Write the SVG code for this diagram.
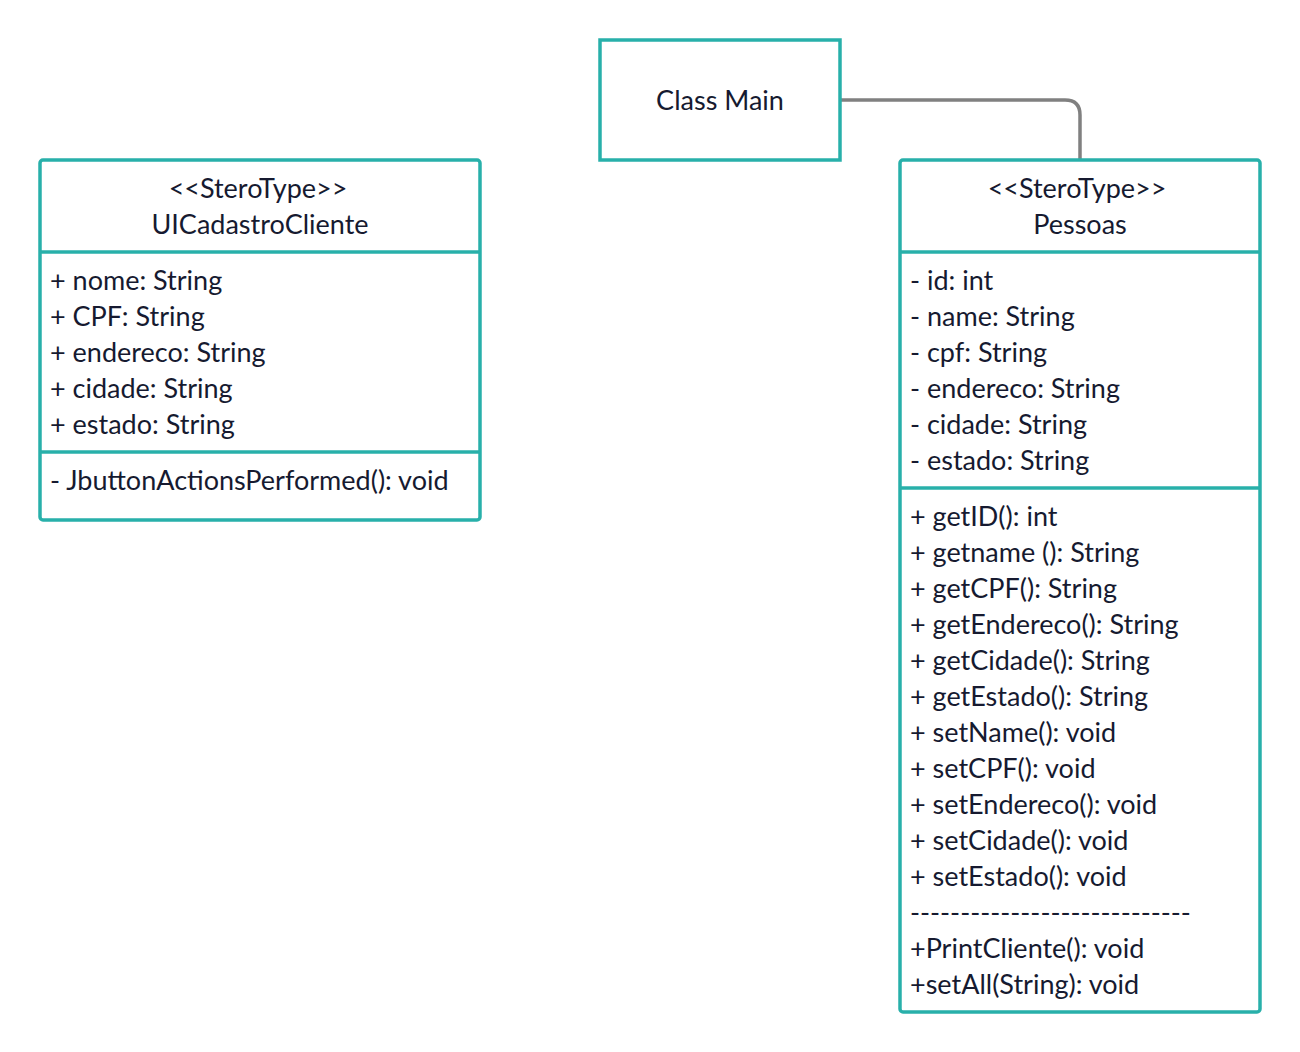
<svg xmlns="http://www.w3.org/2000/svg" width="1300" height="1052" viewBox="0 0 1300 1052">
<style>
.box{fill:#ffffff;stroke:#28b0aa;stroke-width:3.5}
.div{stroke:#28b0aa;stroke-width:3.5}
text{font-family:Lato,"Open Sans","Liberation Sans",sans-serif;fill:#161a30;font-size:27px}
.c{text-anchor:middle}
.conn{fill:none;stroke:#808080;stroke-width:3.5}
</style>
<rect width="1300" height="1052" fill="#ffffff"/>
<g id="connectors">
<path class="conn" d="M840 100 H1065 Q1080 100 1080 115 V160"/>
</g>
<g id="main">
<rect class="box" x="600" y="40" width="240" height="120"/>
<text class="c" x="720" y="110">Class Main</text>
</g>
<g id="uicadastro">
<rect class="box" x="40" y="160" width="440" height="360" rx="3"/>
<line class="div" x1="40" y1="252" x2="480" y2="252"/>
<line class="div" x1="40" y1="452" x2="480" y2="452"/>
<text class="c" x="258" y="198">&lt;&lt;SteroType&gt;&gt;</text>
<text class="c" x="260" y="234">UICadastroCliente</text>
<text x="50" y="290">+ nome: String</text>
<text x="50" y="326">+ CPF: String</text>
<text x="50" y="362">+ endereco: String</text>
<text x="50" y="398">+ cidade: String</text>
<text x="50" y="434">+ estado: String</text>
<text x="50" y="490">- JbuttonActionsPerformed(): void</text>
</g>
<g id="pessoas">
<rect class="box" x="900" y="160" width="360" height="852" rx="3"/>
<line class="div" x1="900" y1="252" x2="1260" y2="252"/>
<line class="div" x1="900" y1="488" x2="1260" y2="488"/>
<text class="c" x="1077" y="198">&lt;&lt;SteroType&gt;&gt;</text>
<text class="c" x="1080" y="234">Pessoas</text>
<text x="910" y="290">- id: int</text>
<text x="910" y="326">- name: String</text>
<text x="910" y="362">- cpf: String</text>
<text x="910" y="398">- endereco: String</text>
<text x="910" y="434">- cidade: String</text>
<text x="910" y="470">- estado: String</text>
<text x="910" y="526">+ getID(): int</text>
<text x="910" y="562">+ getname (): String</text>
<text x="910" y="598">+ getCPF(): String</text>
<text x="910" y="634">+ getEndereco(): String</text>
<text x="910" y="670">+ getCidade(): String</text>
<text x="910" y="706">+ getEstado(): String</text>
<text x="910" y="742">+ setName(): void</text>
<text x="910" y="778">+ setCPF(): void</text>
<text x="910" y="814">+ setEndereco(): void</text>
<text x="910" y="850">+ setCidade(): void</text>
<text x="910" y="886">+ setEstado(): void</text>
<text x="910" y="922">----------------------------</text>
<text x="910" y="958">+PrintCliente(): void</text>
<text x="910" y="994">+setAll(String): void</text>
</g>
</svg>
